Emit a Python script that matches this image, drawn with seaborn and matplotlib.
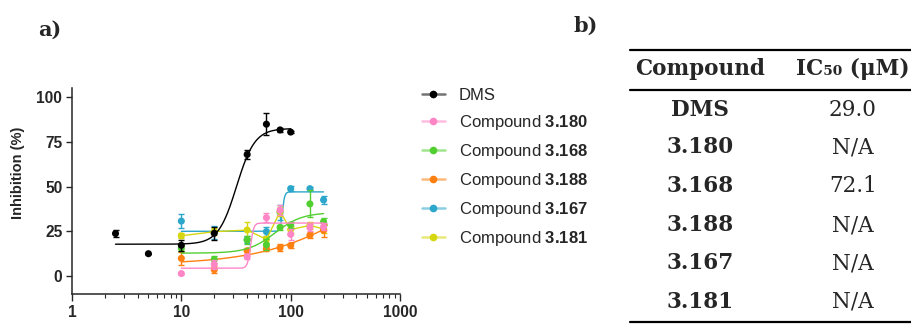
import numpy as np
import pandas as pd
import matplotlib
matplotlib.use("Agg")
import matplotlib.pyplot as plt
from matplotlib.lines import Line2D
import seaborn as sns

# ---- data -------------------------------------------------------------
series_names = ["DMS", "3.180", "3.168", "3.188", "3.167", "3.181"]
series_colors = ["#000000", "#FF86C6", "#52CF30", "#FF7F10", "#2CA6CB", "#D6D60E"]

conc_dms = [2.5, 5, 10, 20, 40, 60, 80, 100]
mean_dms = [23.8, 12.5, 17.2, 23.9, 67.9, 84.8, 81.6, 80.4]
err_dms = [2.2, 0.0, 3.0, 3.7, 2.5, 6.0, 1.2, 0.8]

conc = [10, 20, 40, 60, 80, 100, 150, 200]
mean_180 = [1.4, 6.5, 10.8, 32.6, 36.8, 23.3, 27.2, 27.5]
err_180 = [0.0, 2.5, 1.5, 2.5, 2.8, 3.0, 2.0, 2.0]
mean_168 = [15.5, 9.3, 20.1, 17.5, 27.2, 28.5, 40.3, 30.4]
err_168 = [1.5, 2.0, 2.0, 3.0, 1.5, 1.5, 7.5, 2.0]
mean_188 = [9.9, 3.6, 14.1, 15.3, 15.8, 17.1, 22.8, 25.5]
err_188 = [3.5, 2.0, 1.5, 1.5, 2.0, 1.2, 1.8, 3.5]
mean_167 = [30.7, 24.5, 20.3, 24.8, 35.5, 48.8, 48.8, 42.5]
err_167 = [4.0, 3.7, 2.0, 2.5, 4.0, 1.5, 0.8, 2.0]
mean_181 = [22.5, 24.8, 25.7, 20.5, 36.0, 26.0, 28.3, 26.3]
err_181 = [1.5, 2.0, 4.7, 2.0, 2.5, 2.0, 2.0, 2.0]

# four-parameter logistic fits: bottom, top, EC50, Hill slope, x-range
fit_dms = [17.8, 82.4, 32.0, 5.2, 2.5, 100]
fit_180 = [4.4, 29.6, 43.0, 30.0, 10, 200]
fit_168 = [12.8, 35.5, 72.1, 3.5, 10, 200]
fit_188 = [6.5, 65.0, 400.0, 1.0, 10, 200]
fit_167 = [25.0, 47.0, 84.0, 40.0, 10, 200]

table_compounds = ["DMS", "3.180", "3.168", "3.188", "3.167", "3.181"]
table_ic50 = ["29.0", "N/A", "72.1", "N/A", "N/A", "N/A"]

# ---- style ------------------------------------------------------------
sns.set_style("ticks")
plt.rcParams["font.family"] = ["Liberation Sans", "DejaVu Sans"]
plt.rcParams["mathtext.fontset"] = "custom"
plt.rcParams["mathtext.rm"] = "Liberation Sans"
plt.rcParams["mathtext.bf"] = "Liberation Sans:bold"

fig = plt.figure(figsize=(9.11, 3.24), dpi=100)
W, H = 911, 324
ax = fig.add_axes([72 / W, 30 / H, 328 / W, 206 / H])


def logistic(x, b, t, ec, n):
    return b + (t - b) / (1 + (ec / x) ** n)


points = [
    (conc_dms, mean_dms, err_dms),
    (conc, mean_180, err_180),
    (conc, mean_168, err_168),
    (conc, mean_188, err_188),
    (conc, mean_167, err_167),
    (conc, mean_181, err_181),
]
fits = [fit_dms, fit_180, fit_168, fit_188, fit_167, None]
zorders = [12, 11, 10, 9, 7, 8]

for name, col, (xs, ys, es), fit, z in zip(series_names, series_colors, points, fits, zorders):
    if fit is not None:
        b, t, ec, n, lo, hi = fit
        xx = np.logspace(np.log10(lo), np.log10(hi), 600)
        curve = pd.DataFrame({"x": xx, "y": logistic(xx, b, t, ec, n)})
        sns.lineplot(data=curve, x="x", y="y", ax=ax, color=col, lw=1.0,
                     zorder=z, estimator=None, sort=False)
    else:
        seg = pd.DataFrame({"x": xs, "y": ys})
        sns.lineplot(data=seg, x="x", y="y", ax=ax, color=col, lw=1.0,
                     zorder=z, estimator=None, sort=False)
    ax.errorbar(xs, ys, yerr=es, fmt="none", ecolor=col, elinewidth=1.0,
                capsize=2.4, capthick=1.0, zorder=z)
    pts = pd.DataFrame({"x": xs, "y": ys})
    sns.scatterplot(data=pts, x="x", y="y", ax=ax, color=col, s=26,
                    edgecolor="none", zorder=z + 0.5)

ax.set_xscale("log")
ax.set_xlim(1, 1000)
ax.set_ylim(-10, 105)
ax.set_yticks([0, 25, 50, 75, 100])
ax.set_xticks([1, 10, 100, 1000])
ax.set_xticklabels(["1", "10", "100", "1000"])
ax.set_xlabel("")
ax.set_ylabel("Inhibition (%)", fontsize=10.5, fontweight="bold")
ax.yaxis.set_label_coords(-0.143, 0.587)
for lab in ax.get_xticklabels() + ax.get_yticklabels():
    lab.set_fontweight("bold")
    lab.set_fontsize(11.2)
ax.tick_params(axis="y", which="major", length=4.5, width=1.0, pad=2.5)
ax.tick_params(axis="x", which="major", length=5, width=1.0, pad=3)
ax.tick_params(axis="x", which="minor", length=3, width=0.8)
sns.despine(ax=ax)
for s in ("left", "bottom"):
    ax.spines[s].set_linewidth(1.1)

# legend
handles = []
labels = []
for name, col in zip(series_names, series_colors):
    lc = matplotlib.colors.to_rgba(col, 0.55)
    handles.append(Line2D([], [], color=lc, lw=1.8, marker="o", markersize=4.5,
                          markerfacecolor=col, markeredgecolor=col))
    labels.append("DMS" if name == "DMS" else "Compound $\\mathbf{" + name + "}$")
fig.legend(handles, labels, loc="upper left", bbox_to_anchor=(422 / W, 1 - 88 / H),
           frameon=False, fontsize=12, handlelength=1.35, handletextpad=0.85,
           labelspacing=0.6, borderpad=0, borderaxespad=0)

# panel labels
fig.text(38 / W, 1 - 30 / H, "a)", fontsize=15, fontweight="bold",
         family="DejaVu Serif", va="center", ha="left")
fig.text(574 / W, 1 - 26 / H, "b)", fontsize=15, fontweight="bold",
         family="DejaVu Serif", va="center", ha="left")

# table
x0, x1 = 630 / W, 1.0
for yy in (50, 89.5, 321.5):
    fig.add_artist(Line2D([x0, x1], [1 - yy / H] * 2, color="black", lw=1.6))
col1, col2 = 700 / W, 853 / W
fig.text(col1, 1 - 69 / H, "Compound", family="DejaVu Serif", fontweight="bold",
         fontsize=15.5, ha="center", va="center")
fig.text(col2, 1 - 69 / H, "IC\u2085\u2080 (\u03bcM)", family="DejaVu Serif",
         fontweight="bold", fontsize=15.5, ha="center", va="center")
row_y = [110, 147, 186, 225, 263, 301.5]
for cname, val, yy in zip(table_compounds, table_ic50, row_y):
    fig.text(col1, 1 - yy / H, cname, family="DejaVu Serif", fontweight="bold",
             fontsize=15.5, ha="center", va="center")
    fig.text(col2, 1 - yy / H, val, family="DejaVu Serif", fontsize=15.5,
             ha="center", va="center")

fig.savefig("out.png", dpi=100)
